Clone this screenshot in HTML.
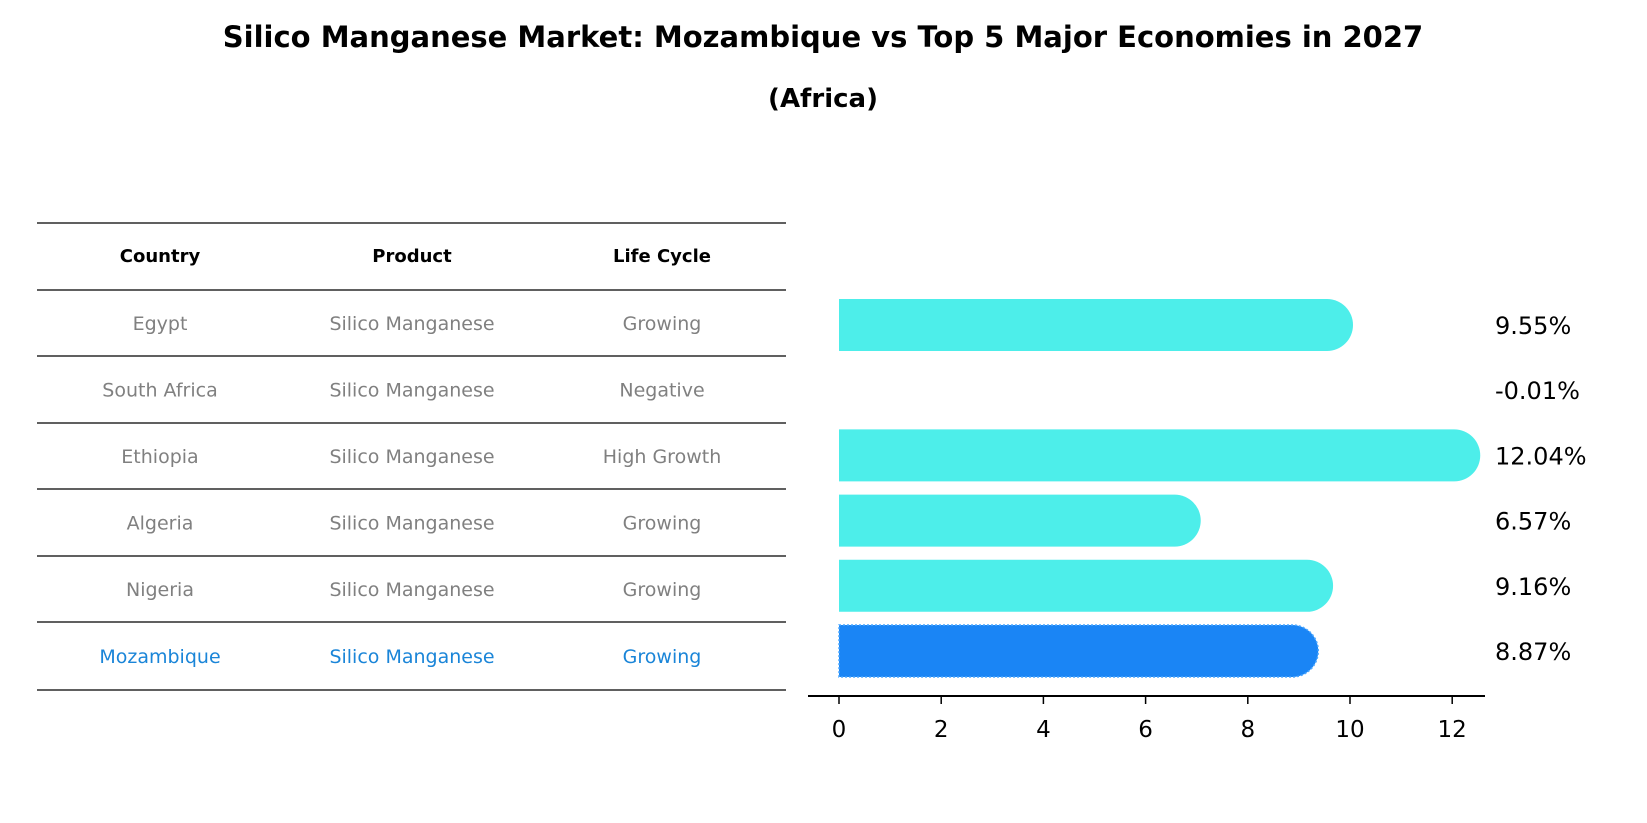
<!DOCTYPE html>
<html><head><meta charset="utf-8"><style>
body{margin:0;background:#fff;font-family:"DejaVu Sans","Liberation Sans",sans-serif;}
#wrap{position:relative;width:1647px;height:823px;overflow:hidden;}
.t{position:absolute;white-space:nowrap;transform:translate(-50%,-50%);}
</style></head><body>
<div id="wrap">
<div class="t" style="left:823px;top:37px;font-size:29px;font-weight:bold;">Silico Manganese Market: Mozambique vs Top 5 Major Economies in 2027</div>
<div class="t" style="left:823px;top:99px;font-size:26px;font-weight:bold;">(Africa)</div>
<svg id="svg" width="1647" height="823" style="position:absolute;left:0;top:0;font-family:'DejaVu Sans','Liberation Sans',sans-serif"></svg>
</div>
<script>
const countries=["Egypt","South Africa","Ethiopia","Algeria","Nigeria","Mozambique"];
const products=["Silico Manganese","Silico Manganese","Silico Manganese","Silico Manganese","Silico Manganese","Silico Manganese"];
const lifeCycles=["Growing","Negative","High Growth","Growing","Growing","Growing"];
const values=[9.55,-0.01,12.04,6.57,9.16,8.87];
const ticks=[0,2,4,6,8,10,12];
const NS="http://www.w3.org/2000/svg";
const svg=document.getElementById('svg');
function mk(tag,attrs,parent){const e=document.createElementNS(NS,tag);for(const k in attrs)e.setAttribute(k,attrs[k]);(parent||svg).appendChild(e);return e;}
const x=v=>839+v*51.1;
const y=i=>325+i*65.2;
const barH=52,capR=26;
const lineYs=[223,290,356,423,489,556,622,690];
lineYs.forEach((ly,i)=>{const l=mk('line',{x1:37,x2:786,y1:ly,y2:ly,stroke:'#000','stroke-width':1.2});

});
const colX=[160,412,662];
["Country","Product","Life Cycle"].forEach((h,j)=>{const t=mk('text',{x:colX[j],y:262,'text-anchor':'middle','font-size':18,'font-weight':'bold',fill:'#000'});t.textContent=h;

});
countries.forEach((c,i)=>{
 const ry=(lineYs[i+1]+lineYs[i+2])/2+7;
 const col=i===5?'#1a85d8':'#808080';
 [c,products[i],lifeCycles[i]].forEach((s,j)=>{const t=mk('text',{x:colX[j],y:ry,'text-anchor':'middle','font-size':19,fill:col});t.textContent=s;
 
 });
});
values.forEach((v,i)=>{
 const cy=y(i),top=cy-barH/2;
 const col=i===5?'#1a85f5':'#4deeea';
 if(v>0){
  const w=x(v)-x(0);
  const p=mk('path',{d:`M${x(0)},${top}H${x(0)+w}A${capR},${capR} 0 0 1 ${x(0)+w},${top+barH}H${x(0)}Z`,fill:col});
  
  
  if(i===5){p.setAttribute('stroke','#4da8ff');p.setAttribute('stroke-width','1.5');p.setAttribute('stroke-dasharray','2,2');}
 }
 const t=mk('text',{x:1495,y:cy+9,'font-size':24,fill:'#000'});t.textContent=v.toFixed(2)+'%';
 
 
});
const ax=mk('line',{x1:808,x2:1485,y1:696,y2:696,stroke:'#000','stroke-width':2});


ticks.forEach(tv=>{const l=mk('line',{x1:x(tv),x2:x(tv),y1:696,y2:704,stroke:'#000','stroke-width':1.5});


const t=mk('text',{x:x(tv),y:737,'text-anchor':'middle','font-size':23,fill:'#000'});t.textContent=tv;

});
</script>
</body></html>
